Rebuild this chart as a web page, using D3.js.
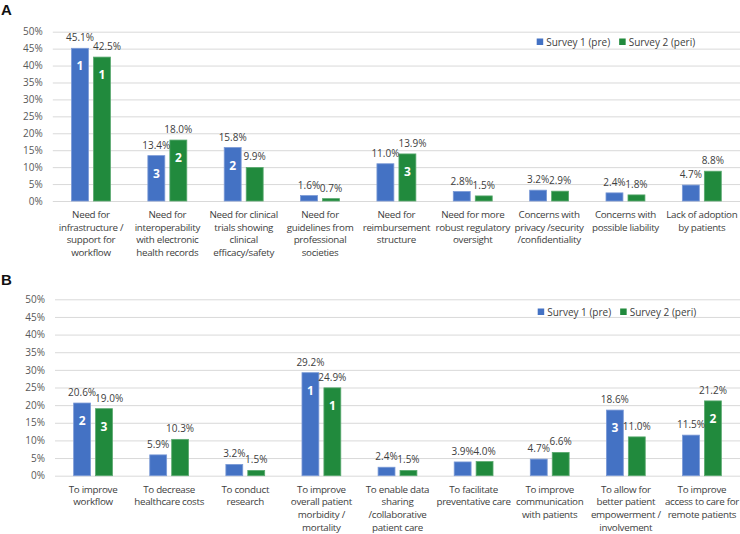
<!DOCTYPE html>
<html>
<head>
<meta charset="utf-8">
<script src="https://cdn.jsdelivr.net/npm/d3@7"></script>
<style>
  html, body { margin: 0; padding: 0; background: #fff; }
  svg { display: block; font-family: "Open Sans", "Noto Sans", sans-serif; }
</style>
</head>
<body>
<svg id="chart" width="740" height="534"></svg>
<script>
// ---------- DATA ----------
const seriesNames = ["Survey 1 (pre)", "Survey 2 (peri)"];
const yTicks = [0, 5, 10, 15, 20, 25, 30, 35, 40, 45, 50];

const categoriesA = [
  ["Need for", "infrastructure /", "support for", "workflow"],
  ["Need for", "interoperability", "with electronic", "health records"],
  ["Need for clinical", "trials showing", "clinical", "efficacy/safety"],
  ["Need for", "guidelines from", "professional", "societies"],
  ["Need for", "reimbursement", "structure"],
  ["Need for more", "robust regulatory", "oversight"],
  ["Concerns with", "privacy /security", "/confidentiality"],
  ["Concerns with", "possible liability"],
  ["Lack of adoption", "by patients"]
];
const survey1A = [45.1, 13.4, 15.8, 1.6, 11.0, 2.8, 3.2, 2.4, 4.7];
const survey2A = [42.5, 18.0, 9.9, 0.7, 13.9, 1.5, 2.9, 1.8, 8.8];
const rank1A = [1, 3, 2, null, null, null, null, null, null];
const rank2A = [1, 2, null, null, 3, null, null, null, null];

const categoriesB = [
  ["To improve", "workflow"],
  ["To decrease", "healthcare costs"],
  ["To conduct", "research"],
  ["To improve", "overall patient", "morbidity /", "mortality"],
  ["To enable data", "sharing", "/collaborative", "patient care"],
  ["To facilitate", "preventative care"],
  ["To improve", "communication", "with patients"],
  ["To allow for", "better patient", "empowerment /", "involvement"],
  ["To improve", "access to care for", "remote patients"]
];
const survey1B = [20.6, 5.9, 3.2, 29.2, 2.4, 3.9, 4.7, 18.6, 11.5];
const survey2B = [19.0, 10.3, 1.5, 24.9, 1.5, 4.0, 6.6, 11.0, 21.2];
const rank1B = [2, null, null, 1, null, null, null, 3, null];
const rank2B = [3, null, null, 1, null, null, null, null, 2];

// ---------- STYLE ----------
const colors = ["#4472c4", "#218a3d"];
const strokes = ["#7b9ad6", "#5aa96f"];
const textColor = "#404040";
const svg = d3.select("#chart");

function drawPanel(cfg) {
  const g = svg.append("g");
  const n = cfg.cats.length;
  const idx = d3.range(n);

  const y = d3.scaleLinear().domain([0, 50]).range([cfg.y0, cfg.y50]);
  const x0 = d3.scaleBand().domain(idx).range([cfg.xL, cfg.xR])
    .paddingInner(0.49).paddingOuter(0.245);
  const x1 = d3.scaleBand().domain([0, 1]).range([0, x0.bandwidth()]).paddingInner(0.23);

  // panel letter
  g.append("text").attr("x", 1).attr("y", cfg.letterY)
    .attr("font-family", "Liberation Sans, Arial, sans-serif")
    .attr("font-weight", "bold").attr("font-size", 15).attr("fill", "#111")
    .text(cfg.letter);

  // gridlines
  const yAxis = d3.axisLeft(y).tickValues(yTicks).tickSize(-(cfg.xR - cfg.xL))
    .tickFormat(d => d + "%").tickPadding(10);
  const ax = g.append("g").attr("transform", `translate(${cfg.xL},0)`).call(yAxis);
  ax.select(".domain").remove();
  ax.selectAll(".tick line").attr("stroke", "#d9d9d9").attr("stroke-width", 1);
  ax.selectAll(".tick text").attr("fill", "#595959").attr("font-size", 10)
    .attr("font-family", "Open Sans, sans-serif");

  const series = [cfg.s1, cfg.s2];
  const ranks = [cfg.r1, cfg.r2];

  // bars
  series.forEach((vals, s) => {
    g.append("g").selectAll("rect").data(idx).join("rect")
      .attr("x", i => x0(i) + x1(s))
      .attr("y", i => y(vals[i]))
      .attr("width", x1.bandwidth())
      .attr("height", i => y(0) - y(vals[i]))
      .attr("fill", colors[s])
      .attr("stroke", strokes[s]).attr("stroke-width", 0.8);
  });

  // value labels
  const lblLayer = g.append("g").attr("font-size", 10).attr("fill", textColor)
    .attr("text-anchor", "middle");
  idx.forEach(i => {
    const boxes = [];
    series.forEach((vals, s) => {
      const cx = x0(i) + x1(s) + x1.bandwidth() / 2;
      const by = y(vals[i]) - 7;
      const t = lblLayer.append("text").attr("x", cx).attr("y", by)
        .text(vals[i].toFixed(1) + "%");
      const w = t.node().getComputedTextLength();
      boxes.push({ t, cx, by, w });
    });
    const a = boxes[0], b = boxes[1];
    const overlapX = (a.cx + a.w / 2) - (b.cx - b.w / 2);
    if (overlapX > 1 && Math.abs(a.by - b.by) < 10) {
      b.t.attr("x", b.cx + overlapX - 1);
    }
  });

  // rank labels
  series.forEach((vals, s) => {
    idx.forEach(i => {
      const r = ranks[s][i];
      if (r == null) return;
      g.append("text")
        .attr("x", x0(i) + x1(s) + x1.bandwidth() / 2)
        .attr("y", y(vals[i]) + 22)
        .attr("text-anchor", "middle").attr("font-weight", "bold")
        .attr("font-size", 12).attr("fill", "#fff")
        .text(r);
    });
  });

  // category labels
  const cl = g.append("g").attr("font-size", 9.8).attr("letter-spacing", -0.3)
    .attr("fill", textColor).attr("text-anchor", "middle");
  idx.forEach(i => {
    const t = cl.append("text")
      .attr("x", x0(i) + x0.bandwidth() / 2)
      .attr("y", cfg.catY);
    cfg.cats[i].forEach((line, k) => {
      t.append("tspan").attr("x", x0(i) + x0.bandwidth() / 2)
        .attr("dy", k === 0 ? 0 : 12.7).text(line);
    });
  });

  // legend
  const lg = g.append("g").attr("font-size", 10).attr("fill", textColor);
  let lx = cfg.legendX;
  seriesNames.forEach((name, s) => {
    lg.append("rect").attr("x", lx).attr("y", cfg.legendY - 3.5)
      .attr("width", 6.5).attr("height", 6.5).attr("fill", colors[s]);
    const t = lg.append("text").attr("x", lx + 9.5).attr("y", cfg.legendY + 3.5).text(name);
    lx = lx + 9.5 + t.node().getComputedTextLength() + 9;
  });
}

drawPanel({
  letter: "A", letterY: 15,
  cats: categoriesA, s1: survey1A, s2: survey2A, r1: rank1A, r2: rank2A,
  y0: 201, y50: 31.7, xL: 52.8, xR: 740,
  catY: 217.8, legendX: 536.7, legendY: 42
});

drawPanel({
  letter: "B", letterY: 285,
  cats: categoriesB, s1: survey1B, s2: survey2B, r1: rank1B, r2: rank2B,
  y0: 475.7, y50: 299.3, xL: 55, xR: 740,
  catY: 492.5, legendX: 537.7, legendY: 312
});
</script>
</body>
</html>
